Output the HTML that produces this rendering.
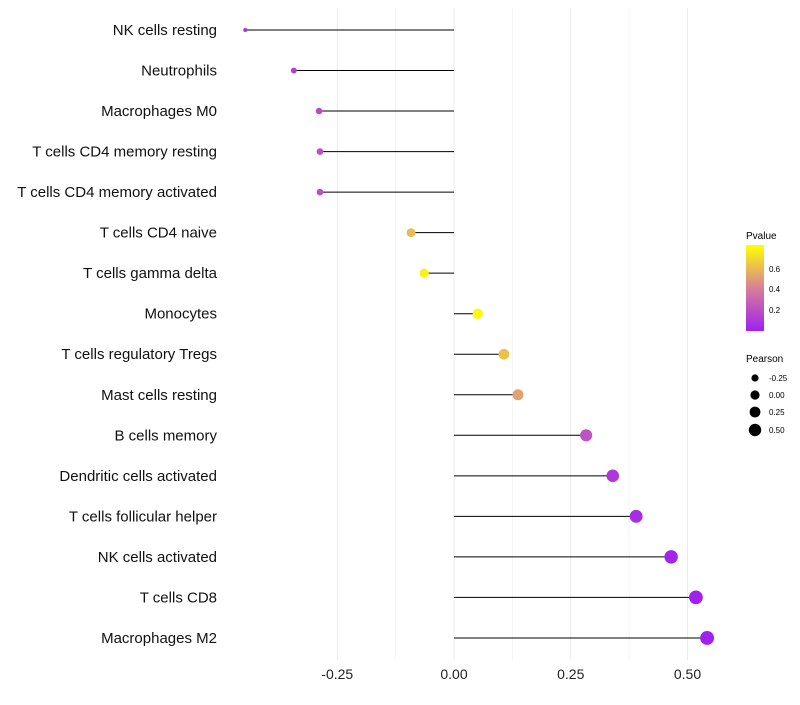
<!DOCTYPE html>
<html><head><meta charset="utf-8"><style>
body{margin:0;background:#fff;font-family:"Liberation Sans",sans-serif}
</style></head><body>
<svg id="c" width="800" height="700" xmlns="http://www.w3.org/2000/svg">
<defs><linearGradient id="pg" x1="0" y1="1" x2="0" y2="0">
<stop offset="0" stop-color="#a020f0"/><stop offset="0.5" stop-color="#d88098"/><stop offset="1" stop-color="#ffff00"/></linearGradient></defs>
<g id="grid"></g><g id="marks"></g><g id="labels"></g>
<g>
<text x="746" y="239" font-size="10">Pvalue</text>
<rect x="746" y="245" width="18" height="86" fill="url(#pg)"/>
<text x="769" y="272" font-size="8">0.6</text>
<text x="769" y="292" font-size="8">0.4</text>
<text x="769" y="313" font-size="8">0.2</text>
</g>
<g>
<text x="746" y="362" font-size="10">Pearson</text>
<circle cx="755" cy="378" r="3.6"/><text x="769" y="381" font-size="8">-0.25</text>
<circle cx="755" cy="395" r="4.6"/><text x="769" y="398" font-size="8">0.00</text>
<circle cx="755" cy="412" r="5.4"/><text x="769" y="415" font-size="8">0.25</text>
<circle cx="755" cy="430" r="6.2"/><text x="769" y="433" font-size="8">0.50</text>
</g>
</svg>
<script>
const categories=["NK cells resting","Neutrophils","Macrophages M0","T cells CD4 memory resting","T cells CD4 memory activated","T cells CD4 naive","T cells gamma delta","Monocytes","T cells regulatory  Tregs ","Mast cells resting","B cells memory","Dendritic cells activated","T cells follicular helper","NK cells activated","T cells CD8","Macrophages M2"];
const pearson=[-0.447,-0.343,-0.289,-0.287,-0.287,-0.092,-0.064,0.051,0.107,0.137,0.283,0.340,0.390,0.465,0.518,0.542];
const pvalues=[0.08,0.12,0.18,0.2,0.2,0.6,0.78,0.8,0.62,0.52,0.22,0.1,0.05,0.02,0.01,0.005];
const ticks=[-0.25,0,0.25,0.5];
const tickLabels=["-0.25","0.00","0.25","0.50"];
const NS="http://www.w3.org/2000/svg";
const xs=v=>454+v*467;
const ys=i=>30+i*40.53;
const rs=v=>Math.sqrt(Math.max(3,24+45*v));
function col(p){let t=Math.min(1,p/0.82);const a=[160,32,240],m=[216,128,152],b=[255,255,0];let s,e;if(t<0.5){s=a;e=m;t=t*2;}else{s=m;e=b;t=(t-0.5)*2;}return `rgb(${s.map((c,k)=>Math.round(c+(e[k]-c)*t)).join(',')})`;}
function mk(tag,at,parent){const e=document.createElementNS(NS,tag);for(const k in at)e.setAttribute(k,at[k]);parent.appendChild(e);return e;}
const grid=document.getElementById('grid'),marks=document.getElementById('marks'),labels=document.getElementById('labels');
for(let v=-0.25;v<=0.51;v+=0.125){const g=mk('line',{x1:xs(v),x2:xs(v),y1:8,y2:660,stroke:'#ebebeb','stroke-width':Math.abs((v/0.25)%1)<0.01?1:0.5},grid);

}
ticks.forEach((v,i)=>{const t=mk('text',{x:xs(v),y:679,'font-size':14,'text-anchor':'middle',fill:'#222'},labels);t.textContent=tickLabels[i];

});
categories.forEach((c,i)=>{
const t=mk('text',{x:217,y:ys(i)+5,'font-size':15,'text-anchor':'end',fill:'#111','xml:space':'preserve'},labels);t.textContent=c;


const l=mk('line',{x1:xs(0),x2:xs(pearson[i]),y1:ys(i),y2:ys(i),stroke:'#000','stroke-width':1},marks);


const p=mk('circle',{cx:xs(pearson[i]),cy:ys(i),r:rs(pearson[i]),fill:col(pvalues[i])},marks);


});
</script>
</body></html>
